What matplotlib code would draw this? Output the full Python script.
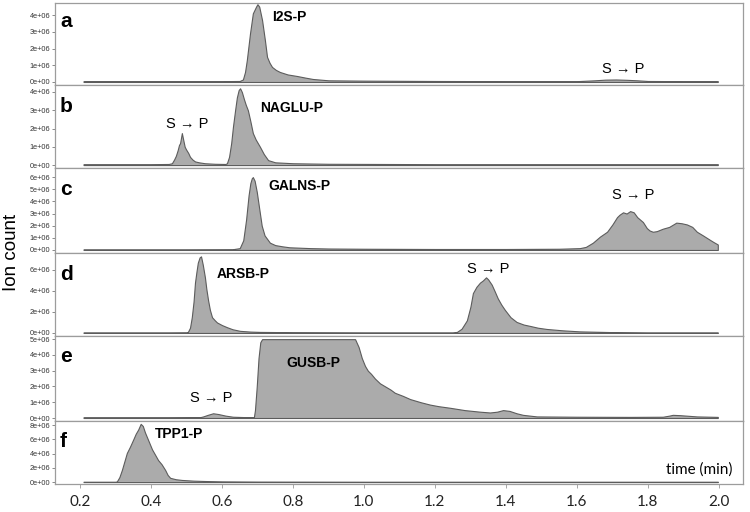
import matplotlib
matplotlib.use("Agg")
import matplotlib.pyplot as plt
from matplotlib.ticker import FuncFormatter

# ---------------- data (time in min, ion count in millions) ----------------
t_a = [0.21, 0.40, 0.60, 0.65, 0.659, 0.665, 0.670, 0.679, 0.687, 0.696, 0.700, 0.705, 0.713, 0.721, 0.727,
       0.734, 0.741, 0.752, 0.763, 0.785, 0.811, 0.835, 0.856, 0.90, 1.0, 1.2, 1.4, 1.6, 1.65, 1.68, 1.71,
       1.74, 1.77, 1.80, 1.9, 1.997]
v_a = [0.05, 0.05, 0.05, 0.06, 0.15, 0.6, 1.3, 2.9, 4.1, 4.5, 4.65, 4.5, 3.7, 2.5, 1.5,
       1.15, 0.9, 0.72, 0.6, 0.45, 0.36, 0.26, 0.18, 0.1, 0.08, 0.06, 0.05, 0.05, 0.1, 0.14, 0.15,
       0.13, 0.1, 0.06, 0.05, 0.05]

t_b = [0.21, 0.40, 0.45, 0.459, 0.465, 0.47, 0.475, 0.479, 0.482, 0.487, 0.491, 0.495, 0.499, 0.505, 0.51,
       0.517, 0.524, 0.535, 0.552, 0.58, 0.61, 0.614, 0.62, 0.626, 0.631, 0.637, 0.642, 0.647, 0.651, 0.656,
       0.662, 0.667, 0.673, 0.68, 0.687, 0.695, 0.707, 0.718, 0.73, 0.75, 0.80, 0.9, 1.2, 1.6, 1.997]
v_b = [0.05, 0.05, 0.06, 0.1, 0.3, 0.5, 0.8, 1.1, 1.2, 1.75, 1.37, 1.0, 0.85, 0.66, 0.45,
       0.3, 0.2, 0.15, 0.1, 0.07, 0.06, 0.1, 0.45, 1.2, 2.1, 3.0, 3.7, 4.1, 4.2, 4.0,
       3.6, 3.3, 3.0, 2.4, 1.75, 1.4, 1.0, 0.6, 0.27, 0.15, 0.1, 0.07, 0.05, 0.05, 0.05]

t_c = [0.21, 0.5, 0.63, 0.65, 0.66, 0.668, 0.675, 0.68, 0.684, 0.687, 0.692, 0.698, 0.705, 0.712, 0.72,
       0.735, 0.75, 0.77, 0.79, 0.85, 0.9, 1.0, 1.2, 1.4, 1.55, 1.608, 1.625, 1.645, 1.665, 1.685,
       1.70, 1.713, 1.72, 1.73, 1.74, 1.75, 1.76, 1.77, 1.786, 1.797, 1.805, 1.814, 1.825, 1.842, 1.86,
       1.88, 1.895, 1.91, 1.925, 1.938, 1.955, 1.975, 1.985, 1.994, 1.997]
v_c = [0.05, 0.05, 0.06, 0.15, 0.8, 2.5, 4.5, 5.5, 5.9, 6.0, 5.7, 4.8, 3.4, 2.0, 1.2,
       0.6, 0.4, 0.3, 0.22, 0.15, 0.12, 0.1, 0.08, 0.08, 0.1, 0.15, 0.25, 0.6, 1.1, 1.5,
       2.1, 2.7, 2.9, 3.1, 3.0, 3.2, 3.1, 2.7, 2.3, 1.8, 1.6, 1.5, 1.55, 1.75, 1.9,
       2.25, 2.2, 2.1, 1.9, 1.5, 1.2, 0.83, 0.65, 0.5, 0.45]

t_d = [0.21, 0.45, 0.50, 0.504, 0.51, 0.515, 0.52, 0.524, 0.528, 0.532, 0.537, 0.541, 0.546, 0.552, 0.556,
       0.561, 0.566, 0.572, 0.58, 0.586, 0.60, 0.614, 0.63, 0.651, 0.68, 0.707, 0.8, 1.0, 1.2, 1.25,
       1.262, 1.275, 1.29, 1.30, 1.307, 1.317, 1.327, 1.335, 1.344, 1.35, 1.36, 1.368, 1.377, 1.387, 1.397,
       1.413, 1.43, 1.45, 1.468, 1.49, 1.515, 1.56, 1.608, 1.7, 1.797, 1.9, 1.997]
v_d = [0.05, 0.05, 0.06, 0.1, 0.5, 1.5, 3.0, 4.8, 5.8, 6.7, 7.2, 7.3, 6.5, 5.3, 4.2,
       3.1, 2.2, 1.5, 1.2, 1.0, 0.75, 0.55, 0.35, 0.2, 0.13, 0.1, 0.07, 0.05, 0.05, 0.05,
       0.1, 0.4, 1.2, 2.5, 3.8, 4.4, 4.8, 5.0, 5.3, 5.1, 4.6, 4.0, 3.3, 2.7, 2.2,
       1.5, 1.05, 0.8, 0.67, 0.5, 0.38, 0.25, 0.15, 0.08, 0.05, 0.05, 0.05]

t_e = [0.21, 0.45, 0.54, 0.547, 0.56, 0.575, 0.59, 0.61, 0.631, 0.66, 0.69, 0.693, 0.698, 0.703, 0.708,
       0.713, 0.75, 0.85, 0.95, 0.975, 0.985, 0.994, 1.003, 1.011, 1.02, 1.031, 1.045, 1.06, 1.075, 1.087,
       1.11, 1.13, 1.16, 1.186, 1.21, 1.242, 1.284, 1.327, 1.355, 1.375, 1.392, 1.41, 1.43, 1.448, 1.487,
       1.6, 1.75, 1.842, 1.86, 1.87, 1.89, 1.938, 1.997]
v_e = [0.05, 0.05, 0.06, 0.1, 0.2, 0.3, 0.25, 0.15, 0.08, 0.06, 0.06, 0.5, 2.0, 3.8, 4.8,
       5.0, 5.0, 5.0, 5.0, 5.0, 4.5, 3.8, 3.3, 3.0, 2.8, 2.5, 2.2, 2.0, 1.8, 1.6,
       1.4, 1.2, 1.0, 0.85, 0.75, 0.65, 0.5, 0.4, 0.35, 0.4, 0.5, 0.45, 0.3, 0.2, 0.1,
       0.08, 0.07, 0.08, 0.15, 0.2, 0.18, 0.1, 0.07]

t_f = [0.21, 0.30, 0.304, 0.311, 0.318, 0.325, 0.332, 0.341, 0.35, 0.357, 0.364, 0.371, 0.377, 0.383, 0.393,
       0.403, 0.411, 0.42, 0.43, 0.44, 0.447, 0.454, 0.47, 0.487, 0.52, 0.552, 0.6, 0.7, 1.0, 1.5, 1.997]
v_f = [0.05, 0.05, 0.1, 0.7, 1.7, 2.9, 4.1, 5.0, 6.0, 6.8, 7.4, 8.2, 7.9, 7.0, 5.8,
       4.6, 3.9, 3.1, 2.5, 1.7, 1.0, 0.6, 0.4, 0.3, 0.2, 0.15, 0.1, 0.07, 0.05, 0.05, 0.05]

panel_letters = ["a", "b", "c", "d", "e", "f"]
peak_labels = ["I2S-P", "NAGLU-P", "GALNS-P", "ARSB-P", "GUSB-P", "TPP1-P"]
yticks_a = [0, 1, 2, 3, 4]
yticks_b = [0, 1, 2, 3, 4]
yticks_c = [0, 1, 2, 3, 4, 5, 6]
yticks_d = [0, 2, 4, 6]
yticks_e = [0, 1, 2, 3, 4, 5]
yticks_f = [0, 2, 4, 6, 8]
xticks = [0.2, 0.4, 0.6, 0.8, 1.0, 1.2, 1.4, 1.6, 1.8, 2.0]
xtick_labels = ["0.2", "0.4", "0.6", "0.8", "1.0", "1.2", "1.4", "1.6", "1.8", "2.0"]

# ---------------- layout ----------------
W, H = 750, 512
fig = plt.figure(figsize=(W / 100, H / 100), dpi=100)

panels = [
    (t_a, v_a, yticks_a, (3, 85), (-0.18, 4.72)),
    (t_b, v_b, yticks_b, (85, 168), (-0.16, 4.38)),
    (t_c, v_c, yticks_c, (168, 253), (-0.25, 6.75)),
    (t_d, v_d, yticks_d, (253, 336), (-0.29, 7.62)),
    (t_e, v_e, yticks_e, (336, 421), (-0.19, 5.2)),
    (t_f, v_f, yticks_f, (421, 484), (-0.27, 8.6)),
]

left_px, right_px = 55, 743
fmt = FuncFormatter(lambda v, p: f"{v * 1e6:.0e}")
frame_col = "#9c9c9c"
axes = []
for i, (t, v, yt, (top, bot), yl) in enumerate(panels):
    ax = fig.add_axes([left_px / W, 1 - bot / H, (right_px - left_px) / W, (bot - top) / H])
    ax.fill_between(t, 0, v, facecolor="#ababab", edgecolor="#5c5c5c", linewidth=0.8)
    ax.set_xlim(0.1296, 2.068)
    ax.set_ylim(*yl)
    ax.set_yticks(yt)
    ax.yaxis.set_major_formatter(fmt)
    ax.tick_params(axis="y", length=2.5, width=0.6, color="#777777", labelsize=5.3,
                   labelcolor="#333333", pad=1)
    for tl in ax.get_yticklabels():
        tl.set_family("Liberation Sans")
    for s in ax.spines.values():
        s.set_color(frame_col)
        s.set_linewidth(0.9)
    if i < 5:
        ax.set_xticks([])
    axes.append(ax)

axf = axes[-1]
axf.set_xticks(xticks, xtick_labels)
axf.tick_params(axis="x", length=3, width=0.6, color="#999999", labelsize=11, pad=5,
                labelcolor="#222222")
for tl in axf.get_xticklabels():
    tl.set_family("Lato")


def ftext(x, y, s, **kw):
    fig.text(x / W, 1 - y / H, s, **kw)


# panel letters (baseline positions in px)
letter_base = [27, 112, 195, 280, 362, 447]
for L, yb in zip(panel_letters, letter_base):
    ftext(60, yb, L, fontsize=15, fontweight="bold", family="Liberation Sans", va="baseline", ha="left")

# bold peak labels (left x, baseline y)
peak_pos = [(272, 21), (260, 112), (268, 190), (217, 278), (286, 367), (155, 438)]
for s, (x, y) in zip(peak_labels, peak_pos):
    ftext(x, y, s, fontsize=10, fontweight="bold", family="Liberation Sans", va="baseline", ha="left")

# substrate -> product labels
sp_pos = [(602, 73), (166, 128), (612, 199), (467, 273), (190, 402)]
for (x, y) in sp_pos:
    ftext(x, y, "S \u2192 P", fontsize=10.5, family=["Liberation Sans", "DejaVu Sans"],
          va="baseline", ha="left")

ftext(732, 474, "time (min)", fontsize=11, family="Lato", va="baseline", ha="right")
ftext(12, 252, "Ion count", fontsize=13.5, family="Liberation Sans", rotation=90, va="center", ha="center")

fig.savefig("out.png", dpi=100)
